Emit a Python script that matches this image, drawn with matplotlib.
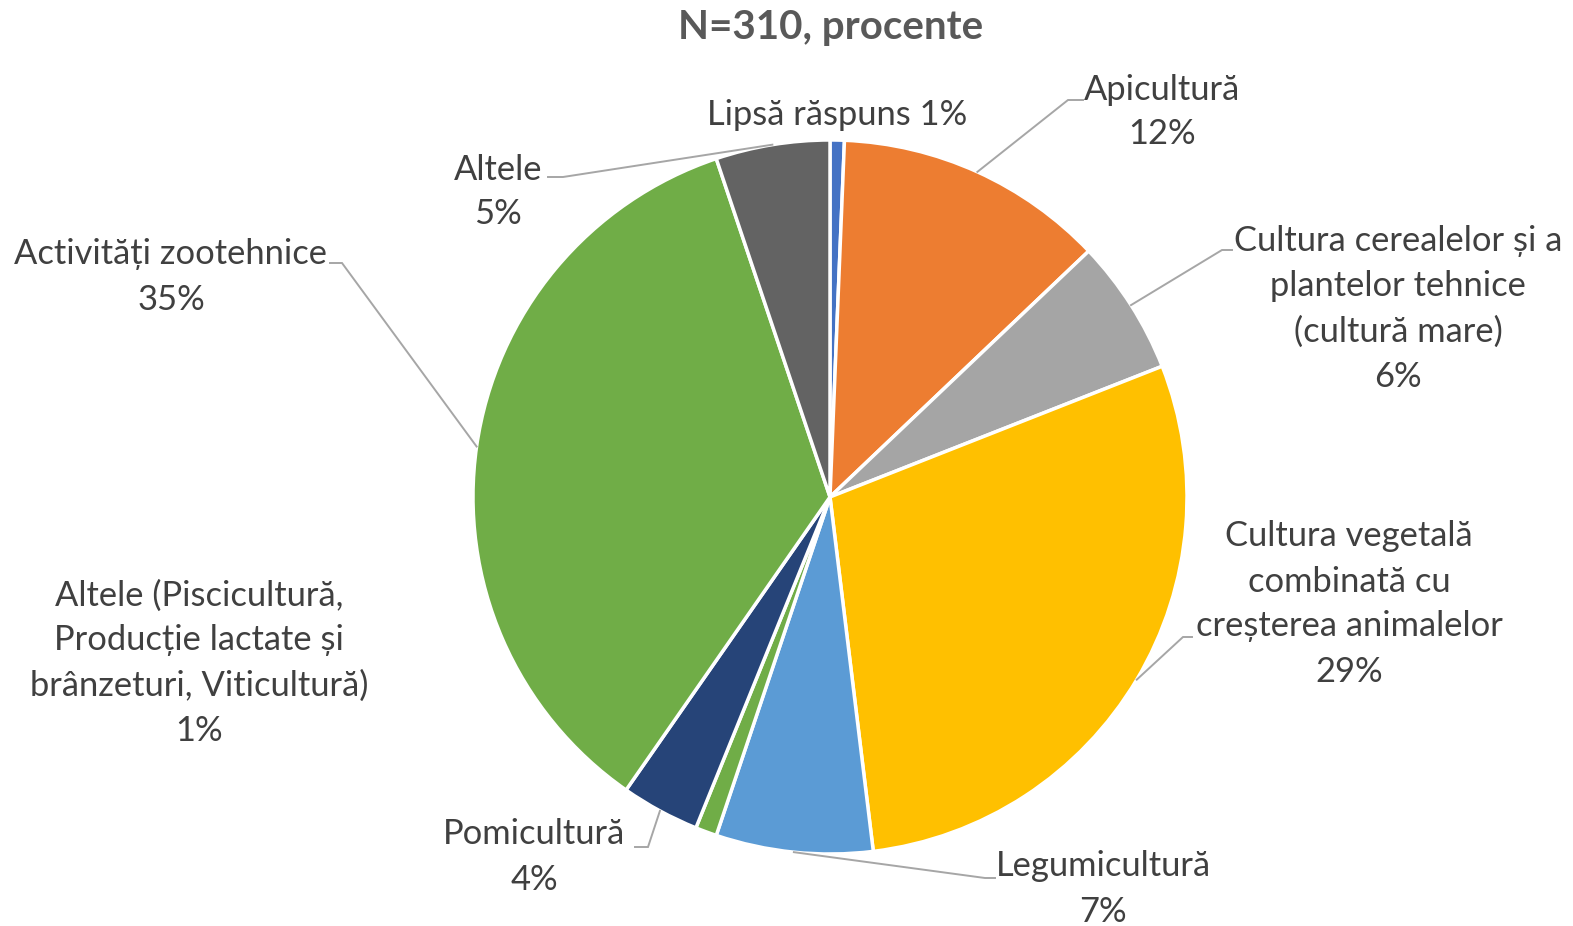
import matplotlib
matplotlib.use("Agg")
import matplotlib.pyplot as plt
import numpy as np

# ---------------- data ----------------
title = "N=310, procente"
categories = [
    "Lipsă răspuns",
    "Apicultură",
    "Cultura cerealelor și a\nplantelor tehnice\n(cultură mare)",
    "Cultura vegetală\ncombinată cu\ncreșterea animalelor",
    "Legumicultură",
    "Altele (Piscicultură,\nProducție lactate și\nbrânzeturi, Viticultură)",
    "Pomicultură",
    "Activități zootehnice",
    "Altele",
]
counts = [2, 38, 19, 90, 22, 3, 11, 109, 16]
colors = ["#4472C4", "#ED7D31", "#A5A5A5", "#FFC000", "#5B9BD5",
          "#70AD47", "#264478", "#70AD47", "#636363"]

# ---------------- layout ----------------
W, H = 1573, 926
CENTER = (830, 497)     # px, top-origin
RADIUS = 357
# label block centres (px, top-origin)
label_pos = [
    (837, 115), (1162, 112), (1398, 309), (1349, 604), (1103, 889),
    (199, 663), (534, 857), (171, 277), (498, 192),
]
single_line = [True, False, False, False, False, False, False, False, False]
# leader lines: elbow and end points (px, top-origin); None = no leader
leaders = [
    None,
    ((1068, 100), (1083, 100)),
    ((1222, 250), (1232, 250)),
    ((1183, 637), (1192, 637)),
    ((985, 878), (995, 878)),
    None,
    ((648, 847), (635, 847)),
    ((342, 263), (330, 263)),
    ((563, 177), (548, 177)),
]

FONT = "Lato"
TXT = "#404040"
LEAD = "#A6A6A6"


def Y(y):
    return H - y


fig = plt.figure(figsize=(W / 100, H / 100), dpi=100)
ax = fig.add_axes([0, 0, 1, 1])

total = sum(counts)
wedges, _ = ax.pie(counts, colors=colors, startangle=90, counterclock=False,
                   center=(CENTER[0], Y(CENTER[1])), radius=RADIUS,
                   wedgeprops=dict(edgecolor="white", linewidth=2.5))
ax.set_xlim(0, W)
ax.set_ylim(0, H)
ax.set_aspect("equal")
ax.axis("off")

for i, (cat, c) in enumerate(zip(categories, counts)):
    pct = f"{round(c / total * 100):d}%"
    txt = f"{cat} {pct}" if single_line[i] else f"{cat}\n{pct}"
    lx, ly = label_pos[i]
    ax.text(lx, Y(ly), txt, ha="center", va="center", multialignment="center",
            fontsize=24.8, family=FONT, color=TXT, linespacing=1.5)
    if leaders[i] is not None:
        w = wedges[i]
        mid = np.deg2rad((w.theta1 + w.theta2) / 2)
        px = w.center[0] + w.r * np.cos(mid)
        py = w.center[1] + w.r * np.sin(mid)
        (ex, ey), (fx, fy) = leaders[i]
        ax.plot([px, ex, fx], [py, Y(ey), Y(fy)], color=LEAD, lw=1.4,
                solid_joinstyle="miter")

fig.text(831 / W, 1 - 27 / H, title, ha="center", va="center",
         fontsize=29, fontweight="bold", family=FONT, color="#595959")

fig.savefig("out.png", dpi=100)
